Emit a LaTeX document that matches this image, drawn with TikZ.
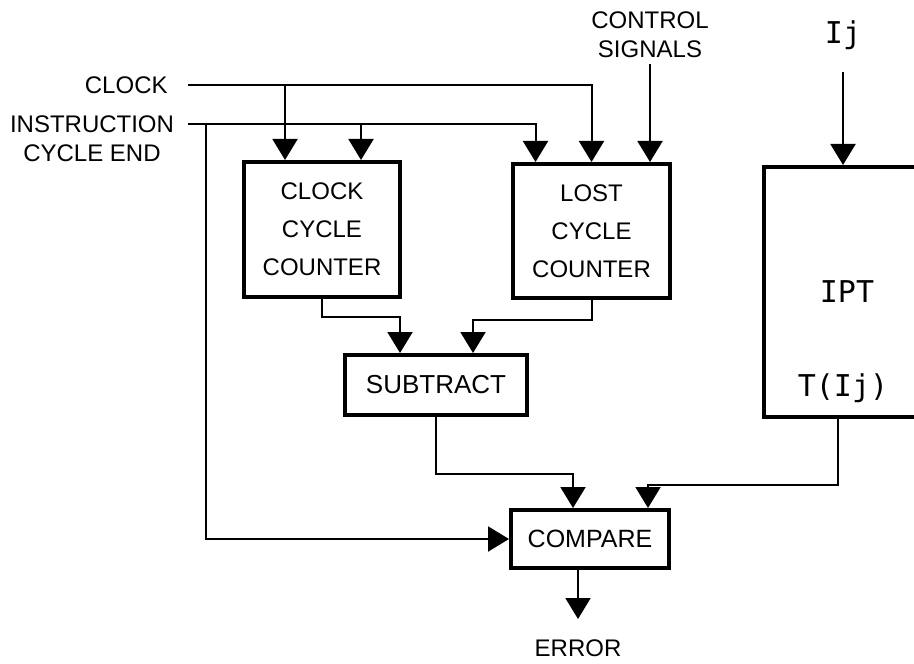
\documentclass[tikz,border=0pt]{standalone}
\usepackage{fontspec}
\setmainfont{Liberation Sans}
\newfontfamily\plotmono{DejaVu Sans Mono}
\usetikzlibrary{arrows.meta,positioning}

\begin{document}
\begin{tikzpicture}[x=0.5pt,y=-0.5pt,
  caja/.style={draw,line width=2pt,inner sep=0pt,align=center,
               font=\fontsize{12}{19}\selectfont},
  fl/.style={-{Triangle[length=10.5pt,width=12.5pt]},line width=1pt},
  et/.style={inner sep=1pt,align=center,font=\fontsize{12}{14.5}\selectfont},
  mono/.style={inner sep=1pt,font=\plotmono\fontsize{15}{18}\selectfont}]

  \useasboundingbox (0,0) rectangle (914,663);

  \node[caja,minimum width=78pt,minimum height=67.5pt] (ccc) at (322,229.5) {CLOCK\\CYCLE\\COUNTER};
  \node[caja,minimum width=78.5pt,minimum height=67pt] (lcc) at (591.5,231) {LOST\\CYCLE\\COUNTER};
  \node[caja,minimum width=91pt,minimum height=30pt,font=\fontsize{13}{19}\selectfont] (sub) at (436,385) {SUBTRACT};
  \node[caja,minimum width=79pt,minimum height=29pt,font=\fontsize{12.5}{19}\selectfont] (cmp) at (590,539) {COMPARE};
  \node[caja,minimum width=83pt,minimum height=125pt,font=\plotmono\fontsize{15}{18}\selectfont] (ipt) at (847,292) {IPT};
  \node[mono] (tij) at (843,388) {T(Ij)};

  \coordinate (clk) at (188,85);
  \coordinate (ins) at (188,124);
  \node[et,left=9pt of clk] (clklbl) {CLOCK};
  \node[et] (inslbl) at (92,139) {INSTRUCTION\\CYCLE END};
  \node[et] (ctl) at (650,35) {CONTROL\\SIGNALS};
  \node[mono] (ij) at (843,35) {Ij};

  \draw[fl] (clk) -| (lcc.north);
  \draw[fl] ([xshift=-18.5pt]ccc.north |- clk) -- ([xshift=-18.5pt]ccc.north);
  \draw[fl] (ins) -| ([xshift=-28pt]lcc.north);
  \draw[fl] ([xshift=19.5pt]ccc.north |- ins) -- ([xshift=19.5pt]ccc.north);
  \draw[fl] ([xshift=9pt]ins) |- (cmp.west);
  \draw[fl] ([yshift=-2pt]ctl.south) -- (ctl.south |- lcc.north);
  \draw[fl] ([yshift=-10pt]ij.south) -- (ij.south |- ipt.north);

  \draw[fl] (ccc.south) -- ++(0,18) -| ([xshift=-18pt]sub.north);
  \draw[fl] (lcc.south) -- ++(0,20) -| ([xshift=18.5pt]sub.north);
  \draw[fl] (sub.south) -- ++(0,57) -| ([xshift=-8.5pt]cmp.north);
  \draw[fl] ([xshift=-4.5pt]ipt.south) -- ++(0,66) -| ([xshift=29pt]cmp.north);
  \draw[fl] ([xshift=-6pt]cmp.south) -- ++(0,49) node[et,below=9pt] (err) {ERROR};
\end{tikzpicture}
\end{document}
